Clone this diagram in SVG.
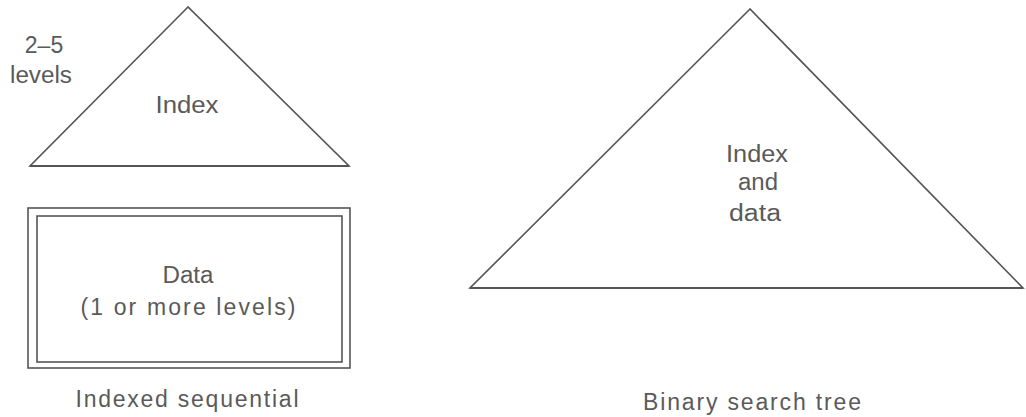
<svg xmlns="http://www.w3.org/2000/svg" width="1026" height="417" viewBox="0 0 1026 417">
<style>
.shape{fill:none;stroke:#555;stroke-width:1.6;stroke-linejoin:miter}
.base{stroke:#555;stroke-width:2.2}
text{font-family:"Liberation Sans",Arial,sans-serif;font-size:23px;fill:#5a5a5a;text-anchor:middle}
</style>
<rect width="1026" height="417" fill="#fff"/>
<g id="index-triangle">
<polygon class="shape" points="188,7 30,166 349,166"/>
<line class="base" x1="30" y1="166" x2="349" y2="166"/>
<text x="187" y="113" textLength="63" lengthAdjust="spacingAndGlyphs">Index</text>
</g>
<g id="levels-label">
<text x="44" y="53">2–5</text>
<text x="41" y="83" textLength="62" lengthAdjust="spacingAndGlyphs">levels</text>
</g>
<g id="data-box">
<rect class="shape" x="28" y="208" width="322" height="160" stroke-width="2"/>
<rect class="shape" x="37" y="216" width="305" height="146" stroke-width="1.8"/>
<text x="188" y="283" textLength="51" lengthAdjust="spacingAndGlyphs">Data</text>
<text x="188" y="315" textLength="215" lengthAdjust="spacing">(1 or more levels)</text>
</g>
<g id="bst-triangle">
<polygon class="shape" points="750,9 470,288 1023,288"/>
<line class="base" x1="470" y1="288" x2="1023" y2="288"/>
<text x="757" y="162" textLength="62" lengthAdjust="spacingAndGlyphs">Index</text>
<text x="758" y="190" textLength="40" lengthAdjust="spacingAndGlyphs">and</text>
<text x="755" y="221" textLength="52" lengthAdjust="spacingAndGlyphs">data</text>
</g>
<g id="captions">
<text x="187" y="407" textLength="223" lengthAdjust="spacing">Indexed sequential</text>
<text x="752" y="410" textLength="218" lengthAdjust="spacing">Binary search tree</text>
</g>
<g id="connectors"></g>
</svg>
